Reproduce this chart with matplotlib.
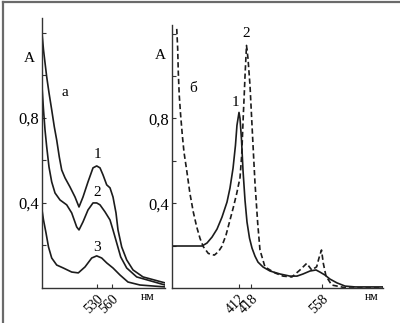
import numpy as np
import matplotlib
matplotlib.use("Agg")
import matplotlib.pyplot as plt
from matplotlib.lines import Line2D

plt.rcParams['font.family'] = ['Liberation Serif', 'DejaVu Serif']

# panel a: wavelength (nm) and absorbance of curves 1-3
a_nm1 = [420, 423, 426, 429.4, 434, 439.4, 444.6, 449.4, 454.6, 459.4, 466, 476, 486, 494, 502, 512,
         522, 529.4, 536, 542, 549.4, 556, 562, 568, 572, 579.4, 589.4, 602, 622, 666]
a_curve1 = [1.199, 1.12, 1.06, 0.993, 0.918, 0.838, 0.758, 0.696, 0.616, 0.555, 0.518, 0.475, 0.428, 0.381,
            0.428, 0.499, 0.565, 0.574, 0.565, 0.532, 0.485, 0.471, 0.428, 0.353, 0.273, 0.193, 0.132,
            0.085, 0.052, 0.024]

a_nm2 = [420, 423, 426, 429.4, 434, 439.4, 446, 456, 469.4, 479.4, 489.4, 494, 502, 512, 522, 529.4,
         536, 546, 556, 562, 569.4, 577.4, 589.4, 609.4, 666]
a_curve2 = [0.947, 0.838, 0.744, 0.664, 0.569, 0.499, 0.447, 0.414, 0.391, 0.353, 0.287, 0.273, 0.311,
            0.367, 0.40, 0.40, 0.391, 0.358, 0.32, 0.273, 0.212, 0.146, 0.094, 0.052, 0.014]

a_nm3 = [420, 423, 428, 433, 439.4, 449.4, 462.6, 479.4, 492.6, 506, 519.4, 529.4, 539.4, 549.4, 562,
         576, 592, 616, 666]
a_curve3 = [0.367, 0.32, 0.259, 0.193, 0.141, 0.108, 0.094, 0.075, 0.071, 0.099, 0.141, 0.151, 0.141,
            0.118, 0.094, 0.061, 0.028, 0.014, 0.005]

# panel b: curve 1 (solid) and curve 2 (dashed)
b_nm1 = [340, 354, 372.2, 377.6, 383, 388.4, 393.7, 399.1, 402.3, 405.6, 408.2, 409.8, 412, 412.5,
         413.25, 414, 415, 416, 417.25, 420, 425.9, 431.8, 441.7, 455.5, 475.2, 494.9, 508.7, 520.5,
         534.3, 546.2, 554, 562.5, 570, 580.6, 592.7, 607.8, 650]
b_curve1 = [0.198, 0.198, 0.198, 0.212, 0.24, 0.278, 0.334, 0.405, 0.471, 0.565, 0.673, 0.767, 0.828,
            0.80, 0.70, 0.555, 0.414, 0.311, 0.235, 0.188, 0.15, 0.122, 0.099, 0.080, 0.066, 0.056,
            0.056, 0.066, 0.080, 0.085, 0.075, 0.061, 0.042, 0.024, 0.009, 0.005, 0.005]

b_nm2 = [345.1, 346.1, 346.8, 347.8, 349.3, 351.1, 352.9, 355.8, 359.3, 362.9, 366.5, 370.1, 373.6,
         379, 385.5, 389.8, 393.4, 398, 402.3, 405.9, 409.5, 412.5, 413.35, 413.75, 414.15, 414.6, 415,
         415.75, 416.5, 417.5, 419, 421, 423, 425.9, 431.2, 435.7, 445.6, 465.3, 481.1, 498.7, 514.6,
         527.8, 537.7, 547.5, 552, 557, 560, 564, 572.6, 595.2, 650]
b_curve2 = [1.222, 1.129, 1.012, 0.908, 0.814, 0.72, 0.64, 0.555, 0.445, 0.358, 0.289, 0.234, 0.195,
            0.163, 0.155, 0.171, 0.195, 0.249, 0.32, 0.38, 0.445, 0.52, 0.626, 0.72, 0.814, 0.908, 0.998,
            1.144, 1.082, 0.955, 0.814, 0.72, 0.626, 0.494, 0.306, 0.179, 0.099, 0.071, 0.056, 0.052,
            0.085, 0.116, 0.085, 0.10, 0.141, 0.179, 0.116, 0.0565, 0.014, 0.0, 0.0]

a_xticks = [530, 560]
b_xticks = [412, 418, 558]
yticks = [0.2, 0.4, 0.6, 0.8, 1.0, 1.2]
ytick_labels = ['', '0,4', '', '0,8', '', '']

# the x axis of panel b is not uniform in the original drawing
b_knots_nm = [340, 412, 418, 558, 650]
b_knots_pos = [0, 67, 79, 150, 211]


def fwd(x):
    return np.interp(x, b_knots_nm, b_knots_pos)


def inv(p):
    return np.interp(p, b_knots_pos, b_knots_nm)


ink = '#1c1c1c'
fig = plt.figure(figsize=(4, 3.23), dpi=100)
# scan frame: only left and top edges are visible
fig.add_artist(Line2D([0.0085, 0.0085], [0.0, 0.994], transform=fig.transFigure,
                      color='#6a6a6a', lw=1.6))
fig.add_artist(Line2D([0.0085, 1.0], [0.994, 0.994], transform=fig.transFigure,
                      color='#6a6a6a', lw=1.6))

ax1 = fig.add_axes([0.105, 0.1084, 0.3075, 0.836])
ax2 = fig.add_axes([0.43, 0.1084, 0.5275, 0.814])

for ax in (ax1, ax2):
    for s in ('top', 'right'):
        ax.spines[s].set_visible(False)
    for s in ('left', 'bottom'):
        ax.spines[s].set_color('#333333')
        ax.spines[s].set_linewidth(1.0)
    ax.set_yticks(yticks)
    ax.set_yticklabels(ytick_labels)
    ax.tick_params(direction='in', length=3, width=0.8, color='#333333', labelsize=12, pad=2)
    ax.tick_params(axis='x', labelsize=10, pad=3)
    ax.patch.set_alpha(0)

# panel a
ax1.plot(a_nm1, a_curve1, color=ink, lw=1.2)
ax1.plot(a_nm2, a_curve2, color=ink, lw=1.2)
ax1.plot(a_nm3, a_curve3, color=ink, lw=1.2)
ax1.set_xlim(420, 666)
ax1.set_ylim(0, 1.27)
ax1.set_xticks(a_xticks)
ax1.set_xticklabels([str(t) for t in a_xticks], rotation=45, ha='right', va='top',
                    rotation_mode='anchor')
ax1.text(530, 0.626, '1', ha='center', va='center', fontsize=11)
ax1.text(530, 0.45, '2', ha='center', va='center', fontsize=11)
ax1.text(530, 0.19, '3', ha='center', va='center', fontsize=11)
ax1.text(466, 0.92, 'а', ha='center', va='center', fontsize=11)
ax1.text(-0.1, 0.85, 'A', transform=ax1.transAxes, ha='center', va='center', fontsize=11)
ax1.text(0.862, -0.033, 'нм', transform=ax1.transAxes, ha='center', va='center', fontsize=8.5)

# panel b
ax2.set_xscale('function', functions=(fwd, inv))
ax2.plot(b_nm1, b_curve1, color=ink, lw=1.2)
ax2.plot(b_nm2, b_curve2, color=ink, lw=1.2, ls=(0, (3.2, 1.8)))
ax2.set_xlim(340, 650)
ax2.set_ylim(0, 1.24)
ax2.set_xticks(b_xticks)
ax2.set_xticklabels([str(t) for t in b_xticks], rotation=45, ha='right', va='top',
                    rotation_mode='anchor')
ax2.xaxis.set_minor_locator(plt.NullLocator())
ax2.text(408.6, 0.875, '1', ha='center', va='center', fontsize=11)
ax2.text(415.5, 1.2, '2', ha='center', va='center', fontsize=11)
ax2.text(362.6, 0.94, 'б', ha='center', va='center', fontsize=11)
ax2.text(-0.057, 0.885, 'A', transform=ax2.transAxes, ha='center', va='center', fontsize=11)
ax2.text(0.948, -0.034, 'нм', transform=ax2.transAxes, ha='center', va='center', fontsize=8.5)

fig.savefig('out.png', dpi=100)
